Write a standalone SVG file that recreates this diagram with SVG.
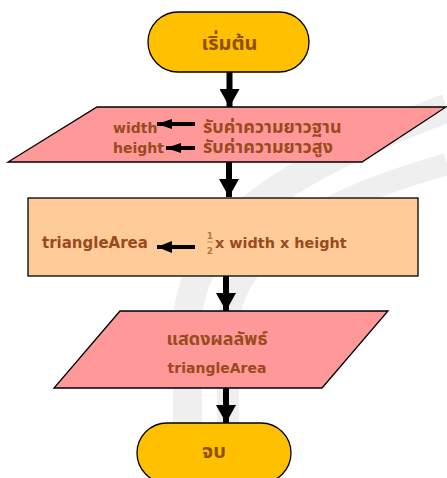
<svg xmlns="http://www.w3.org/2000/svg" width="447" height="478" viewBox="0 0 447 478">
  <style>
    .terminal { fill: #FFC000; stroke: #000; stroke-width: 1.3; }
    .io { fill: #FF9999; stroke: #000; stroke-width: 1.3; }
    .process { fill: #FFCC99; stroke: #000; stroke-width: 1.3; }
    .lbl { font-family: "DejaVu Sans", "Noto Sans Thai", "Noto Sans", sans-serif; font-weight: bold; fill: #9A4A1C; }
    .term-lbl { font-family: "DejaVu Sans", "Noto Sans Thai", "Noto Sans", sans-serif; font-weight: bold; fill: #8E4F00; font-size: 20px; text-anchor: middle; }
    .frac { font-family: "DejaVu Sans", sans-serif; font-weight: bold; fill: #B8763C; font-size: 9px; text-anchor: middle; }
    .flow { stroke: #000; stroke-width: 6; fill: none; }
    .assign { stroke: #000; stroke-width: 4; fill: none; }
    .swoosh { fill: none; stroke: #EFEFEF; }
  </style>
  <defs>
    <marker id="flowHead" viewBox="0 0 18 20" markerWidth="18" markerHeight="20" refX="18" refY="10" orient="auto" markerUnits="userSpaceOnUse">
      <path d="M0,0 L18,10 L0,20 Z" fill="#000"/>
    </marker>
    <marker id="assignHead" viewBox="0 0 15 10" markerWidth="15" markerHeight="10" refX="15" refY="5" orient="auto" markerUnits="userSpaceOnUse">
      <path d="M0,0 L15,5 L0,10 Z" fill="#000"/>
    </marker>
    <marker id="assignHeadLarge" viewBox="0 0 15 12" markerWidth="15" markerHeight="12" refX="15" refY="6" orient="auto" markerUnits="userSpaceOnUse">
      <path d="M0,0 L15,6 L0,12 Z" fill="#000"/>
    </marker>
  </defs>

  <!-- faint background swoosh -->
  <g id="background">
    <rect x="0" y="0" width="447" height="478" fill="#FFFFFF"/>
    <path class="swoosh" stroke-width="29" d="M188,490 L187,330 C187,245 255,180 447,108"/>
    <path class="swoosh" stroke-width="22" d="M228,490 L228,330 C228,262 300,205 447,164"/>
  </g>

  <!-- flow connectors -->
  <g id="connectors">
    <path class="flow" d="M229.5,72 L229.5,107" marker-end="url(#flowHead)"/>
    <path class="flow" d="M229,162 L229,197" marker-end="url(#flowHead)"/>
    <path class="flow" d="M226,276 L226,311" marker-end="url(#flowHead)"/>
    <path class="flow" d="M226,388 L226,423" marker-end="url(#flowHead)"/>
  </g>

  <g id="start">
    <rect class="terminal" x="148" y="12" width="161" height="60" rx="30" ry="30"/>
    <text class="term-lbl" x="229.5" y="50">เริ่มต้น</text>
  </g>

  <g id="input">
    <polygon class="io" points="97,107 446,107 362,162 8,162"/>
    <text class="lbl" font-size="14" x="113" y="133">width</text>
    <path class="assign" d="M195,124 L157,124" marker-end="url(#assignHead)"/>
    <text class="lbl" font-size="18" x="203" y="133">รับค่าความยาวฐาน</text>
    <text class="lbl" font-size="14" x="113" y="153">height</text>
    <path class="assign" d="M195,148 L166,148" marker-end="url(#assignHead)"/>
    <text class="lbl" font-size="18" x="203" y="153">รับค่าความยาวสูง</text>
  </g>

  <g id="compute">
    <rect class="process" x="28" y="198" width="390" height="78"/>
    <text class="lbl" font-size="15" x="42" y="248">triangleArea</text>
    <path class="assign" d="M195,247 L157,247" marker-end="url(#assignHeadLarge)"/>
    <text class="frac" x="210" y="239">1</text>
    <line x1="207" y1="242" x2="213" y2="242" stroke="#B8763C" stroke-width="0.8"/>
    <text class="frac" x="210" y="254">2</text>
    <text class="lbl" font-size="14.4" x="215" y="248">x width x height</text>
  </g>

  <g id="output">
    <polygon class="io" points="120,311 388,311 322,388 54,388"/>
    <text class="lbl" font-size="18" x="217" y="345" text-anchor="middle">แสดงผลลัพธ์</text>
    <text class="lbl" font-size="14" x="217" y="373" text-anchor="middle">triangleArea</text>
  </g>

  <g id="end">
    <rect class="terminal" x="137" y="423" width="154" height="60" rx="30" ry="30"/>
    <text class="term-lbl" x="214" y="458">จบ</text>
  </g>
</svg>
